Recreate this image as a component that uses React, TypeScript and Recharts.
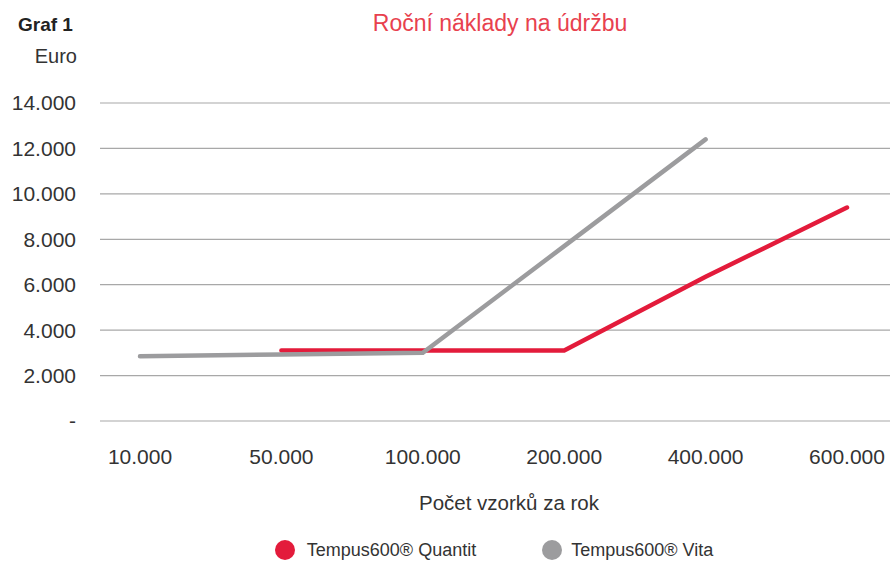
import React from "react";
import {
  LineChart,
  Line,
  XAxis,
  YAxis,
  CartesianGrid,
  Legend,
} from "recharts";

const categories = ["10.000", "50.000", "100.000", "200.000", "400.000", "600.000"];
const quantit = [null, 3100, 3100, 3100, 6350, 9400];
const vita = [2850, 2930, 3000, 7700, 12400, null];
const yTicks = [0, 2000, 4000, 6000, 8000, 10000, 12000, 14000];

const RED = "#e31b3b";
const GRAY = "#9c9c9e";
const FONT = "'Liberation Sans', Arial, sans-serif";

const data = categories.map((c, i) => ({
  name: c,
  quantit: quantit[i],
  vita: vita[i],
}));

const fmt = (v: number) =>
  v === 0 ? "-" : String(v).replace(/\B(?=(\d{3})+(?!\d))/g, ".");

function LegendContent({ payload }: any) {
  return (
    <div
      style={{
        display: "flex",
        justifyContent: "center",
        paddingLeft: 98,
        gap: 66,
        fontFamily: FONT,
        fontSize: 18,
        color: "#333",
        height: 20,
        lineHeight: "20px",
      }}
    >
      {(payload || []).map((p: any, i: number) => (
        <div key={p.value} style={{ display: "flex", alignItems: "center" }}>
          <span
            style={{
              width: 20,
              height: 20,
              borderRadius: "50%",
              background: p.color,
              display: "inline-block",
              marginRight: i === 0 ? 12 : 9,
            }}
          />
          {p.value}
        </div>
      ))}
    </div>
  );
}

export default function App() {
  return (
    <div style={{ position: "absolute", left: 0, top: 0, width: 890, height: 562, background: "#fff", fontFamily: FONT }}>
      <div style={{ position: "absolute", left: 18, top: 14, fontSize: 19, fontWeight: "bold", color: "#222" }}>
        Graf 1
      </div>
      <div style={{ position: "absolute", right: 890 - 77, top: 45, fontSize: 20, color: "#333" }}>
        Euro
      </div>
      <div style={{ position: "absolute", left: 0, width: 1000, top: 10, textAlign: "center", fontSize: 23, color: "#e8414e" }}>
        Roční náklady na údržbu
      </div>
      <LineChart
        width={890}
        height={562}
        data={data}
        margin={{ top: 103, right: 0, bottom: 2, left: 0 }}
      >
        <CartesianGrid vertical={false} stroke="#a8a8a8" strokeWidth={1.2} />
        <XAxis
          dataKey="name"
          axisLine={false}
          tickLine={false}
          tickSize={0}
          tickMargin={28}
          padding={{ left: 40, right: 43 }}
          height={119}
          tick={{ fontSize: 21, fill: "#333", fontFamily: FONT }}
          label={{ value: "Počet vzorků za rok", position: "insideBottom", offset: 30, dx: 14, fontSize: 20.5, fill: "#333", fontFamily: FONT }}
        />
        <YAxis
          domain={[0, 14000]}
          ticks={yTicks}
          interval={0}
          axisLine={false}
          tickLine={false}
          tickSize={0}
          tickMargin={24}
          width={100}
          tickFormatter={fmt}
          tick={{ fontSize: 21, fill: "#333", fontFamily: FONT }}
        />
        <Legend verticalAlign="bottom" content={<LegendContent />} />
        <Line
          dataKey="quantit"
          name="Tempus600® Quantit"
          stroke={RED}
          strokeWidth={4.5}
          dot={false}
          strokeLinecap="round"
          isAnimationActive={false}
        />
        <Line
          dataKey="vita"
          name="Tempus600® Vita"
          stroke={GRAY}
          strokeWidth={4.5}
          dot={false}
          strokeLinecap="round"
          isAnimationActive={false}
        />
      </LineChart>
    </div>
  );
}
